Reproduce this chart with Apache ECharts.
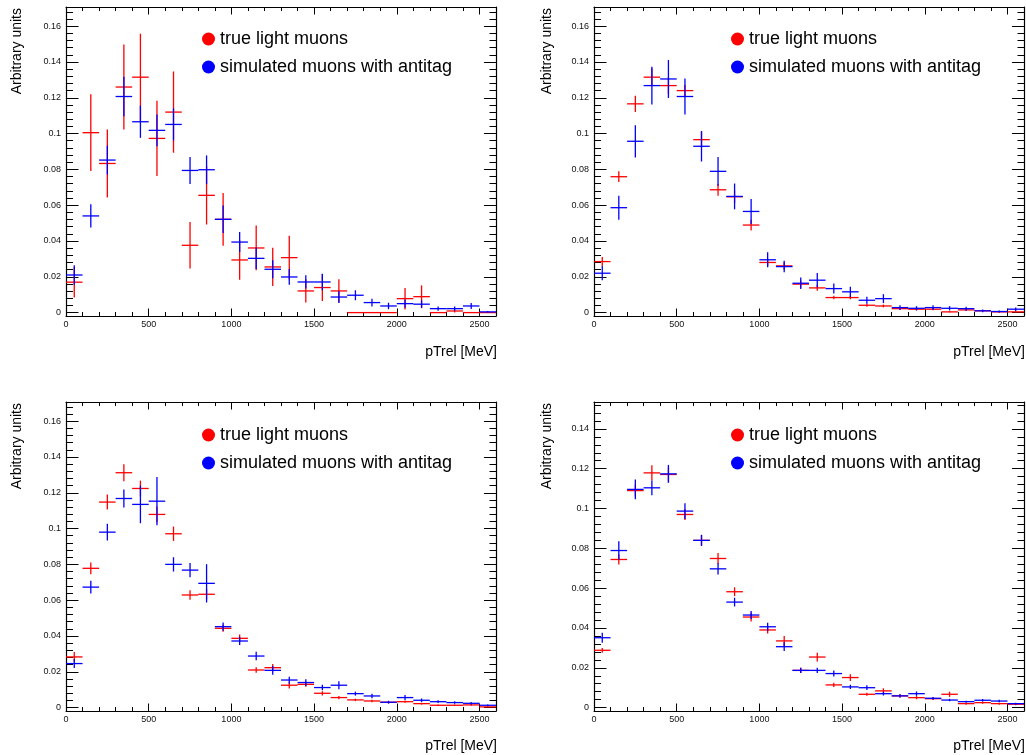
<!DOCTYPE html>
<html>
<head>
<meta charset="utf-8">
<script src="https://cdn.jsdelivr.net/npm/echarts@6/dist/echarts.min.js"></script>
<style>
  html, body { margin: 0; padding: 0; background: #fff; }
  #chart { width: 1026px; height: 755px; }
</style>
</head>
<body>
<div id="chart"></div>
<script>
// pTrel spectra: true light muons vs. simulated muons with antitag, four samples
const BIN_CENTERS = [50, 150, 250, 350, 450, 550, 650, 750, 850, 950, 1050, 1150, 1250,
                     1350, 1450, 1550, 1650, 1750, 1850, 1950, 2050, 2150, 2250, 2350, 2450, 2550];
const BIN_WIDTH = 100;

const X_TICKS = [0, 500, 1000, 1500, 2000, 2500];
const Y_TICKS_16 = [0, 0.02, 0.04, 0.06, 0.08, 0.1, 0.12, 0.14, 0.16];
const Y_TICKS_14 = [0, 0.02, 0.04, 0.06, 0.08, 0.1, 0.12, 0.14];

const SERIES_NAMES = ['true light muons', 'simulated muons with antitag'];

// Sample 1
const A_TRUE = [0.017, 0.1005, 0.0833, 0.126, 0.1315, 0.0973, 0.112, 0.0376, 0.0655, 0.0521, 0.0294, 0.0361, 0.0255,
                0.0307, 0.0121, 0.014, 0.0121, 0, 0, 0, 0.0078, 0.0089, 0, 0.0009, 0, 0];
const A_TRUE_ERR = [0.0085, 0.0214, 0.019, 0.0237, 0.0243, 0.021, 0.0227, 0.013, 0.0163, 0.0147, 0.011, 0.0125, 0.0107,
                    0.0122, 0.0065, 0.0075, 0.0065, 0, 0, 0, 0.006, 0.0063, 0, 0.0009, 0, 0];
const A_SIM = [0.021, 0.054, 0.0852, 0.1207, 0.1066, 0.1018, 0.1051, 0.0794, 0.0798, 0.0521, 0.0394, 0.0303, 0.0242,
               0.0199, 0.0171, 0.0171, 0.0087, 0.0097, 0.0056, 0.0037, 0.005, 0.0047, 0.0022, 0.0022, 0.0037, 0.0004];
const A_SIM_ERR = [0.0055, 0.0065, 0.008, 0.011, 0.009, 0.0089, 0.009, 0.0075, 0.008, 0.0077, 0.0056, 0.006, 0.005,
                   0.0044, 0.0037, 0.0046, 0.0033, 0.0028, 0.0022, 0.0018, 0.0023, 0.0022, 0.0012, 0.0012, 0.0017, 0.0005];

// Sample 2
const B_TRUE = [0.0285, 0.0759, 0.1166, 0.1315, 0.1268, 0.124, 0.0966, 0.0686, 0.0647, 0.0489, 0.028, 0.0261, 0.0159,
                0.0138, 0.0084, 0.0084, 0.0041, 0.0037, 0.0022, 0.0019, 0.0019, 0.0004, 0.0015, 0.001, 0.0004, 0.0004];
const B_TRUE_ERR = [0.0025, 0.003, 0.0045, 0.005, 0.0047, 0.0032, 0.0045, 0.0033, 0.0035, 0.003, 0.002, 0.002, 0.002,
                    0.0016, 0.001, 0.001, 0.0008, 0.0008, 0.0006, 0.0006, 0.0006, 0.0003, 0.0005, 0.0004, 0.0003, 0.0003];
const B_SIM = [0.022, 0.0586, 0.0957, 0.1268, 0.1305, 0.1207, 0.0929, 0.0789, 0.0649, 0.0565, 0.0295, 0.0257, 0.0164,
               0.0181, 0.0134, 0.0116, 0.0069, 0.0078, 0.0028, 0.0024, 0.0028, 0.0024, 0.0022, 0.001, 0.0006, 0.0019];
const B_SIM_ERR = [0.004, 0.0067, 0.009, 0.0105, 0.0106, 0.01, 0.0085, 0.008, 0.0072, 0.007, 0.0042, 0.0032, 0.0032,
                   0.004, 0.0028, 0.0029, 0.002, 0.0025, 0.0013, 0.0012, 0.0013, 0.0012, 0.0011, 0.0008, 0.0006, 0.001];

// Sample 3
const C_TRUE = [0.0283, 0.0778, 0.1148, 0.1312, 0.1224, 0.1079, 0.0971, 0.0629, 0.0633, 0.0443, 0.0387, 0.021, 0.0223,
                0.0125, 0.013, 0.008, 0.0056, 0.0043, 0.0037, 0.003, 0.0033, 0.0022, 0.0013, 0.0013, 0.0015, 0.0004];
const C_TRUE_ERR = [0.0027, 0.0033, 0.0042, 0.0047, 0.0044, 0.0044, 0.004, 0.0027, 0.003, 0.002, 0.0022, 0.0016, 0.002,
                    0.0018, 0.0014, 0.0012, 0.0009, 0.0007, 0.0007, 0.0006, 0.0006, 0.0005, 0.0004, 0.0004, 0.0004, 0.0002];
const C_SIM = [0.0246, 0.0673, 0.098, 0.1168, 0.1135, 0.1153, 0.08, 0.0768, 0.0694, 0.0452, 0.0372, 0.0288, 0.0208,
               0.0154, 0.014, 0.0112, 0.0125, 0.0078, 0.0065, 0.003, 0.0056, 0.0041, 0.0033, 0.0028, 0.0024, 0.0013];
const C_SIM_ERR = [0.0025, 0.0035, 0.0047, 0.005, 0.0105, 0.0135, 0.004, 0.004, 0.0107, 0.0023, 0.0022, 0.0024, 0.0025,
                   0.0019, 0.0019, 0.0015, 0.0022, 0.0011, 0.0013, 0.0008, 0.0014, 0.001, 0.0008, 0.0007, 0.0007, 0.0005];

// Sample 4
const D_TRUE = [0.0288, 0.0744, 0.109, 0.1179, 0.1171, 0.097, 0.084, 0.0749, 0.0582, 0.0455, 0.039, 0.0335, 0.0187,
                0.0254, 0.0114, 0.0151, 0.0067, 0.0084, 0.0059, 0.005, 0.0045, 0.0067, 0.002, 0.0025, 0.002, 0.0017];
const D_TRUE_ERR = [0.0012, 0.0025, 0.003, 0.0038, 0.0035, 0.0028, 0.0027, 0.0028, 0.0022, 0.0022, 0.0018, 0.0025, 0.0013,
                    0.0022, 0.0011, 0.0017, 0.0008, 0.0013, 0.0008, 0.0008, 0.0007, 0.0013, 0.0005, 0.0006, 0.0005, 0.0005];
const D_SIM = [0.0351, 0.0789, 0.1096, 0.1104, 0.1174, 0.0987, 0.084, 0.0697, 0.053, 0.0465, 0.0406, 0.0306, 0.0187,
               0.0187, 0.0171, 0.0104, 0.01, 0.007, 0.0059, 0.007, 0.0047, 0.0038, 0.003, 0.0037, 0.0033, 0.002];
const D_SIM_ERR = [0.0025, 0.0046, 0.005, 0.0037, 0.0045, 0.004, 0.0028, 0.0028, 0.0022, 0.002, 0.002, 0.0022, 0.0013,
                   0.0013, 0.0015, 0.0011, 0.0012, 0.0009, 0.0008, 0.0011, 0.0006, 0.0006, 0.0005, 0.0006, 0.0006, 0.0005];

// ---- layout and styling ----
const FONT = '"Liberation Sans", Arial, Helvetica, sans-serif';
const RED = '#ff0000';
const BLUE = '#0000ff';
const X_RANGE = [0, 2600];

const PANELS = [
  { grid: { left: 66, top: 7,   width: 430, height: 309 }, yRange: [-0.0019, 0.1707], yTicks: Y_TICKS_16,
    sets: [[A_TRUE, A_TRUE_ERR], [A_SIM, A_SIM_ERR]], titleY: 8,   xTitle: [497, 352],  yTitleX: 17.5,  legend: [202, 30] },
  { grid: { left: 594, top: 7,  width: 430, height: 309 }, yRange: [-0.0019, 0.1707], yTicks: Y_TICKS_16,
    sets: [[B_TRUE, B_TRUE_ERR], [B_SIM, B_SIM_ERR]], titleY: 8,   xTitle: [1025, 352], yTitleX: 547.5, legend: [731, 30] },
  { grid: { left: 66, top: 402, width: 430, height: 309 }, yRange: [-0.0019, 0.1707], yTicks: Y_TICKS_16,
    sets: [[C_TRUE, C_TRUE_ERR], [C_SIM, C_SIM_ERR]], titleY: 403, xTitle: [497, 746.5],  yTitleX: 17.5,  legend: [202, 426] },
  { grid: { left: 594, top: 402, width: 430, height: 309 }, yRange: [-0.0017, 0.1535], yTicks: Y_TICKS_14,
    sets: [[D_TRUE, D_TRUE_ERR], [D_SIM, D_SIM_ERR]], titleY: 403, xTitle: [1025, 746.5], yTitleX: 547.5, legend: [731, 426] }
];

function steps(from, to, step) {
  const out = [];
  for (let i = 0; from + i * step <= to + 1e-9; i++) out.push(+(from + i * step).toFixed(6));
  return out;
}
const X_MINOR = steps(0, 2600, 100);

const frameLine = { show: true, onZero: false, lineStyle: { color: '#000', width: 1.2 } };
const hiddenLine = { show: false, onZero: false };
const tickLine = { color: '#000', width: 1 };
const labelStyle = { fontFamily: FONT, fontSize: 9, color: '#111' };

const grids = [], xAxes = [], yAxes = [], series = [], legends = [], graphics = [];

// one error cross per bin: bin-wide horizontal bar plus vertical error bar
function renderCross(params, api) {
  const x = api.value(0), y = api.value(1), e = api.value(2);
  const l = api.coord([x - BIN_WIDTH / 2, y]);
  const r = api.coord([x + BIN_WIDTH / 2, y]);
  const t = api.coord([x, y + e]);
  const b = api.coord([x, y - e]);
  const style = { stroke: api.visual('color'), lineWidth: 1.3 };
  const children = [{ type: 'line', shape: { x1: l[0], y1: l[1], x2: r[0], y2: r[1] }, style }];
  if (e > 0) children.push({ type: 'line', shape: { x1: t[0], y1: t[1], x2: b[0], y2: b[1] }, style });
  return { type: 'group', children };
}

PANELS.forEach((p, gi) => {
  grids.push(p.grid);
  const yMinor = steps(0, p.yRange[1], 0.004);
  const xBase = { gridIndex: gi, type: 'value', min: X_RANGE[0], max: X_RANGE[1], splitLine: { show: false } };
  const yBase = { gridIndex: gi, type: 'value', min: p.yRange[0], max: p.yRange[1], splitLine: { show: false } };

  xAxes.push(
    Object.assign({}, xBase, { position: 'bottom', axisLine: frameLine,
      axisTick: { inside: true, length: 7.5, customValues: X_TICKS, lineStyle: tickLine },
      axisLabel: Object.assign({ customValues: X_TICKS, margin: 4, formatter: v => String(v) }, labelStyle) }),
    Object.assign({}, xBase, { position: 'bottom', axisLine: hiddenLine,
      axisTick: { inside: true, length: 4, customValues: X_MINOR, lineStyle: tickLine }, axisLabel: { show: false } }),
    Object.assign({}, xBase, { position: 'top', axisLine: frameLine,
      axisTick: { inside: true, length: 7.5, customValues: X_TICKS, lineStyle: tickLine }, axisLabel: { show: false } }),
    Object.assign({}, xBase, { position: 'top', axisLine: hiddenLine,
      axisTick: { inside: true, length: 4, customValues: X_MINOR, lineStyle: tickLine }, axisLabel: { show: false } })
  );
  yAxes.push(
    Object.assign({}, yBase, { position: 'left', axisLine: frameLine,
      axisTick: { inside: true, length: 12.5, customValues: p.yTicks, lineStyle: tickLine },
      axisLabel: Object.assign({ customValues: p.yTicks, margin: 5, formatter: v => String(v) }, labelStyle) }),
    Object.assign({}, yBase, { position: 'left', axisLine: hiddenLine,
      axisTick: { inside: true, length: 7, customValues: yMinor, lineStyle: tickLine }, axisLabel: { show: false } }),
    Object.assign({}, yBase, { position: 'right', axisLine: frameLine,
      axisTick: { inside: true, length: 12, customValues: p.yTicks, lineStyle: tickLine }, axisLabel: { show: false } }),
    Object.assign({}, yBase, { position: 'right', axisLine: hiddenLine,
      axisTick: { inside: true, length: 6.5, customValues: yMinor, lineStyle: tickLine }, axisLabel: { show: false } })
  );

  p.sets.forEach((set, si) => {
    const [vals, errs] = set;
    series.push({
      type: 'custom',
      name: SERIES_NAMES[si],
      xAxisIndex: gi * 4,
      yAxisIndex: gi * 4,
      clip: true,
      z: 2 + si,
      itemStyle: { color: si === 0 ? RED : BLUE },
      renderItem: renderCross,
      encode: { x: 0, y: 1 },
      data: BIN_CENTERS.map((c, i) => [c, vals[i], errs[i]])
    });
  });

  legends.push({
    data: SERIES_NAMES,
    orient: 'vertical',
    left: p.legend[0],
    top: p.legend[1],
    icon: 'circle',
    itemWidth: 13,
    itemHeight: 13,
    itemGap: 10,
    padding: 0,
    selectedMode: false,
    textStyle: { fontFamily: FONT, fontSize: 18, color: '#000', lineHeight: 18 }
  });

  graphics.push(
    { type: 'text', x: p.yTitleX, y: p.titleY, rotation: Math.PI / 2,
      style: { text: 'Arbitrary units', font: '14px ' + FONT, fill: '#000', align: 'right', verticalAlign: 'middle' } },
    { type: 'text', x: p.xTitle[0], y: p.xTitle[1],
      style: { text: 'pTrel [MeV]', font: '14px ' + FONT, fill: '#000', align: 'right', verticalAlign: 'middle' } }
  );
});

const chart = echarts.init(document.getElementById('chart'), null, { renderer: 'canvas' });
chart.setOption({
  animation: false,
  backgroundColor: '#fff',
  grid: grids,
  xAxis: xAxes,
  yAxis: yAxes,
  legend: legends,
  graphic: graphics,
  series: series
});
</script>
</body>
</html>
